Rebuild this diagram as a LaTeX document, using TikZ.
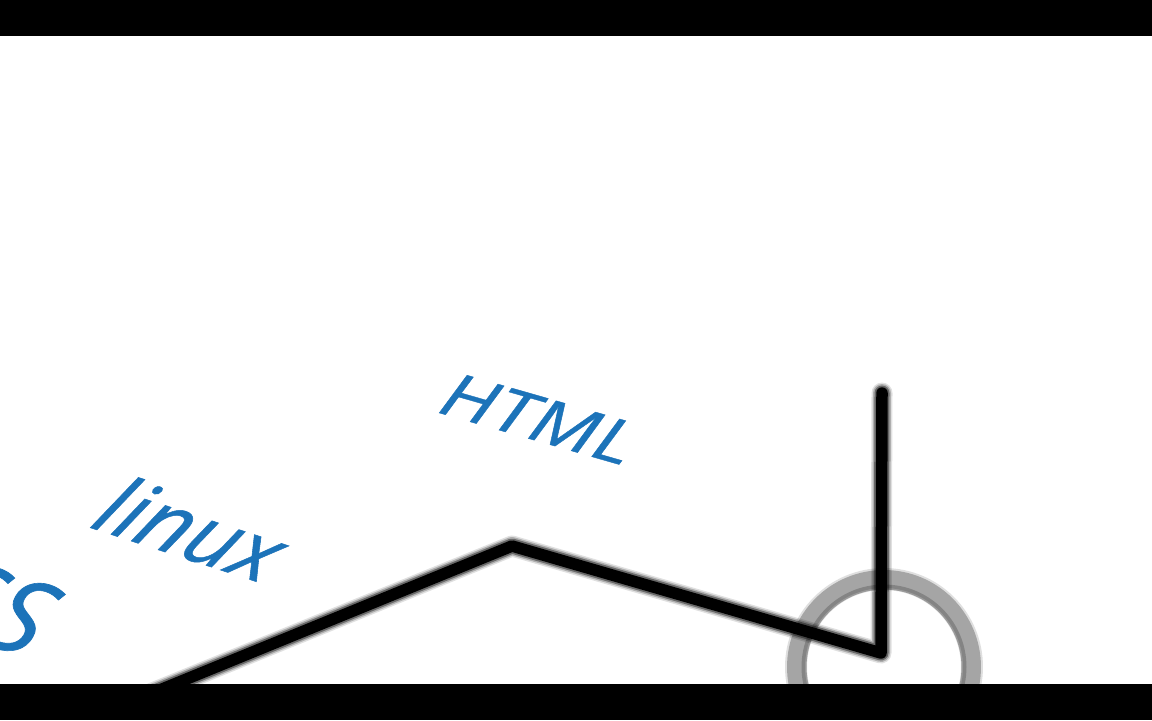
\documentclass[tikz,border=0pt]{standalone}
\usepackage{fontspec}
\setmainfont{Open Sans}
\newfontfamily\wordfont{Open Sans}[ItalicFeatures={FakeBold=0.6}]
\definecolor{skillblue}{RGB}{28,115,185}
\definecolor{ringgray}{RGB}{165,165,165}
\definecolor{ringshade}{RGB}{110,110,110}
\begin{document}
\begin{tikzpicture}[x=0.02cm,y=-0.02cm,
  word/.style={text=skillblue, inner sep=0pt, outer sep=0pt},
  softline/.style={line width=#1, line join=round, line cap=round, draw=black},
  letterbox/.style={fill=black}]
\useasboundingbox (0,0) rectangle (1152,720);
\fill[white] (0,0) rectangle (1152,720);

\begin{scope}
\clip (0,36) rectangle (1152,684);

% floating skill words
\node[word, font=\wordfont\itshape\fontsize{35}{35}\selectfont, anchor=base west,
      rotate=-16, xscale=1.28, xslant=0.08] (html) at (436,412) {HTML};
\node[word, font=\wordfont\itshape\fontsize{47}{47}\selectfont, anchor=base west,
      rotate=-18, xscale=1.04, xslant=0.25] (linux) at (88,527) {linux};
\node[word, font=\wordfont\itshape\fontsize{60}{60}\selectfont, anchor=base east,
      rotate=-18, xslant=0.2] (css) at (28,658) {CSS};

% pointer ring around the corner of the path
\coordinate (hub) at (884,667);
\draw[ringgray, line width=0.44cm, opacity=0.35] (hub) circle [radius=1.76cm];
\draw[ringgray, line width=0.36cm] (hub) circle [radius=1.76cm];
\draw[ringshade, line width=0.1cm, opacity=0.6] (hub) circle [radius=1.6cm];

% the zig-zag path, layered for a soft edge
\coordinate (start) at (145,696);
\coordinate (peak) at (512,546);
\coordinate (corner) at (881,653);
\coordinate (top) at (882,393);
\draw[softline=0.42cm, opacity=0.12] (start) -- (peak) -- (corner) -- (top);
\draw[softline=0.36cm, opacity=0.22] (start) -- (peak) -- (corner) -- (top);
\draw[softline=0.30cm, opacity=0.4] (start) -- (peak) -- (corner) -- (top);
\draw[softline=0.23cm] (start) -- (peak) -- (corner) -- (top);
\end{scope}

% letterbox bars
\fill[letterbox] (0,0) rectangle (1152,36);
\fill[letterbox] (0,684) rectangle (1152,720);
\end{tikzpicture}
\end{document}
